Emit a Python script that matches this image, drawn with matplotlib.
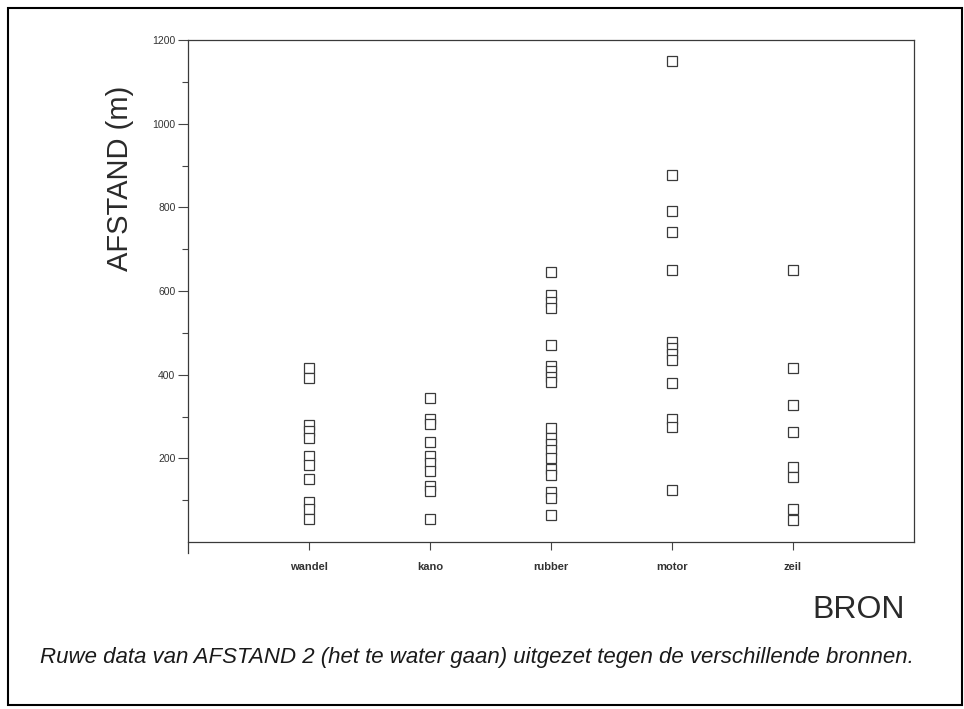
import matplotlib.pyplot as plt
from matplotlib.patches import Rectangle

plt.rcParams['font.family'] = ['Liberation Sans', 'DejaVu Sans']

# categories and readings (m)
bronnen = ["wandel", "kano", "rubber", "motor", "zeil"]
wandel = [415, 393, 280, 265, 248, 205, 185, 152, 95, 80, 55]
kano = [345, 295, 283, 240, 205, 190, 170, 135, 122, 55]
rubber = [645, 590, 575, 560, 470, 420, 408, 395, 383, 272, 250, 235,
          220, 200, 175, 160, 120, 105, 65]
motor = [1150, 878, 792, 740, 650, 478, 465, 450, 436, 380, 295, 275, 125]
zeil = [651, 415, 328, 263, 180, 155, 80, 52]
yticks = [200, 400, 600, 800, 1000, 1200]

series = [wandel, kano, rubber, motor, zeil]

fig = plt.figure(figsize=(9.64, 7.09), dpi=100)
W, H = 964, 709
# y axis runs a little past the x axis, like the original print
ax = fig.add_axes([188 / W, 1 - 553 / H, (914 - 188) / W, (553 - 40) / H])

for i, vals in enumerate(series):
    ax.plot([i + 1] * len(vals), vals, linestyle='none', marker='s',
            markersize=6.5, markerfacecolor='white', markeredgecolor='#3a3a3a',
            markeredgewidth=0.9)

ax.set_xlim(0, 6)
ax.set_ylim(-26, 1200)
ax.spines['bottom'].set_position(('data', 0))
ax.spines['right'].set_bounds(0, 1200)
ax.set_xticks(range(1, len(bronnen) + 1))
ax.set_xticklabels(bronnen, fontsize=8, fontweight='bold', color='#333333')
ax.set_yticks(yticks)
ax.set_yticklabels([str(v) for v in yticks], fontsize=7.5, color='#333333')
ax.set_yticks([100, 300, 500, 700, 900, 1100], minor=True)
ax.tick_params(axis='y', which='major', length=7, width=0.8, color='#444444', pad=2)
ax.tick_params(axis='y', which='minor', length=4, width=0.8, color='#444444')
ax.tick_params(axis='x', length=6, width=0.8, color='#444444', pad=8)
for s in ax.spines.values():
    s.set_color('#3a3a3a')
    s.set_linewidth(0.9)

fig.text(120 / W, 1 - 178 / H, "AFSTAND (m)", rotation=90, fontsize=21,
         ha='center', va='center', color='#2a2a2a')
fig.text(905 / W, 1 - 610 / H, "BRON", fontsize=23, ha='right',
         va='center', color='#2a2a2a')
fig.text(477 / W, 1 - 658 / H,
         "Ruwe data van AFSTAND 2 (het te water gaan) uitgezet tegen de verschillende bronnen.",
         fontsize=16, style='italic', ha='center', va='center', color='#1a1a1a')

fig.patches.append(Rectangle((8 / W, 1 - 705 / H), (962 - 8) / W, (705 - 8) / H,
                             transform=fig.transFigure, fill=False,
                             edgecolor='black', linewidth=1.5))

fig.savefig("out.png", dpi=100)
